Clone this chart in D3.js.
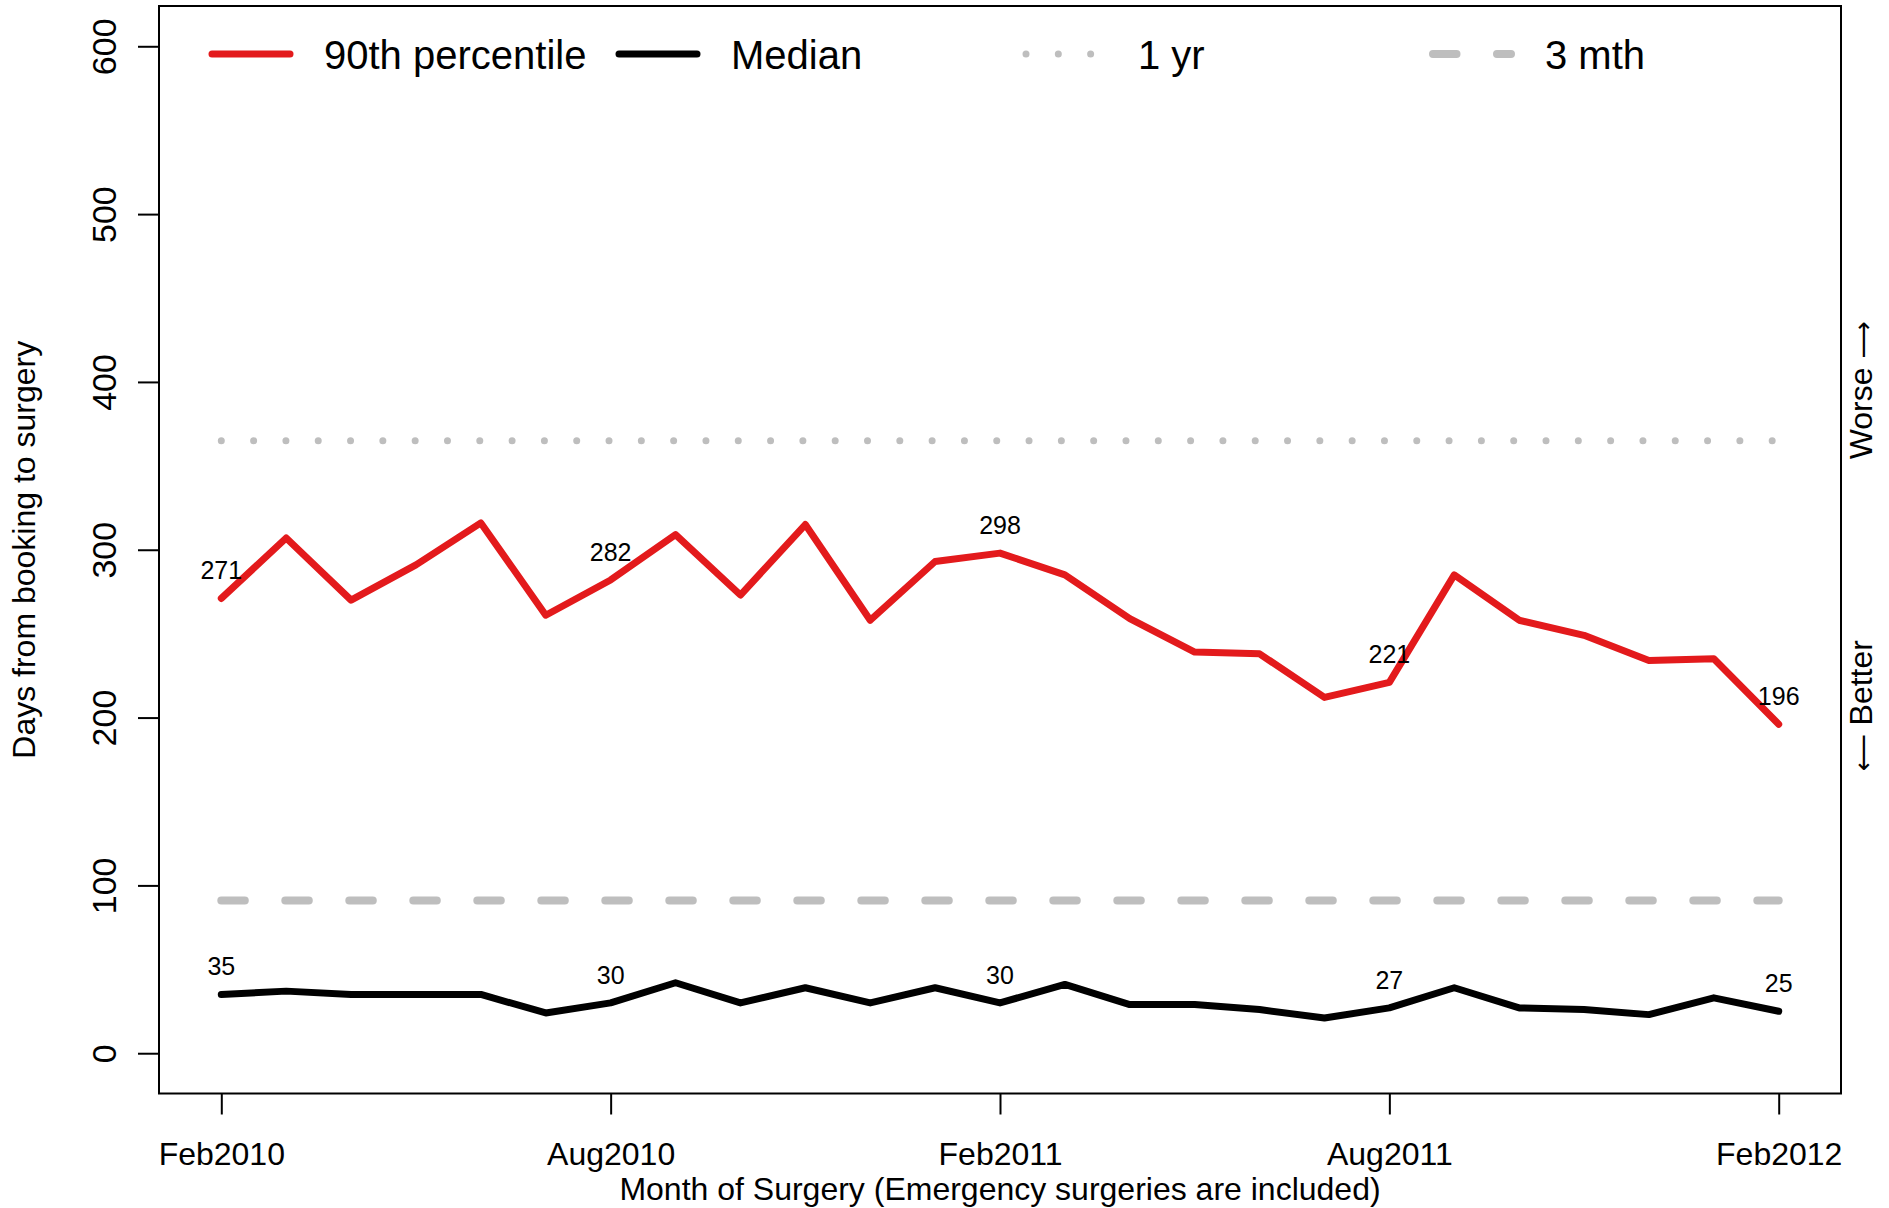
<!DOCTYPE html>
<html>
<head>
<meta charset="utf-8">
<script src="https://cdnjs.cloudflare.com/ajax/libs/d3/7.8.5/d3.min.js"></script>
<style>
  body { margin: 0; background: #fff; }
  svg { font-family: "Liberation Sans", Arial, sans-serif; }
</style>
</head>
<body>
<svg width="1889" height="1208"></svg>
<script>
// months on the x axis, Feb2010 .. Feb2012
var months = ["Feb2010","Mar2010","Apr2010","May2010","Jun2010","Jul2010","Aug2010","Sep2010","Oct2010","Nov2010","Dec2010","Jan2011",
              "Feb2011","Mar2011","Apr2011","May2011","Jun2011","Jul2011","Aug2011","Sep2011","Oct2011","Nov2011","Dec2011","Jan2012","Feb2012"];
var tickMonths = ["Feb2010","Aug2010","Feb2011","Aug2011","Feb2012"];

// days from booking to surgery
var p90    = [271,307,270,291,316,261,282,309,273,315,258,293,298,285,259,239,238,212,221,285,258,249,234,235,196];
var median = [35,37,35,35,35,24,30,42,30,39,30,39,30,41,29,29,26,21,27,39,27,26,23,33,25];

var yTicks = [0,100,200,300,400,500,600];
var oneYear = 365, threeMonth = 91;
var legendLabels = ["90th percentile","Median","1 yr","3 mth"];

var svg = d3.select("svg");
var red = "#E31A1C", grey = "#BEBEBE";

var x = d3.scalePoint()
    .domain(months)
    .range([159, 1841])
    .padding(0.96);

var y = d3.scaleLinear()
    .domain([-24, 624])
    .range([1093.5, 6]);

// y axis, labels turned like R does
var yAxis = svg.append("g")
    .attr("transform", "translate(159,0)")
    .call(d3.axisLeft(y).tickValues(yTicks).tickSize(21).tickFormat(d3.format("d")));
yAxis.select(".domain").remove();
yAxis.selectAll("line").attr("stroke-width", 2);
yAxis.selectAll("text")
    .attr("transform", "rotate(-90)")
    .attr("x", 0)
    .attr("y", -43)
    .attr("dy", 0)
    .attr("text-anchor", "middle")
    .attr("font-size", 34)
    .attr("font-family", null)
    .attr("fill", "#000");

// x axis
var xAxis = svg.append("g")
    .attr("transform", "translate(0,1093.5)")
    .call(d3.axisBottom(x).tickValues(tickMonths).tickSize(21));
xAxis.select(".domain").remove();
xAxis.selectAll("line").attr("stroke-width", 2);
xAxis.selectAll("text")
    .attr("y", 71)
    .attr("dy", 0)
    .attr("font-size", 32)
    .attr("font-family", null)
    .attr("fill", "#000");

// frame
svg.append("rect")
    .attr("x", 159).attr("y", 6)
    .attr("width", 1841 - 159).attr("height", 1093.5 - 6)
    .attr("fill", "none").attr("stroke", "#000").attr("stroke-width", 2);

// reference lines
var ends = [months[0], months[months.length - 1]];
svg.append("line")
    .attr("x1", x(ends[0])).attr("x2", x(ends[1]))
    .attr("y1", y(oneYear)).attr("y2", y(oneYear))
    .attr("stroke", grey).attr("stroke-width", 7)
    .attr("stroke-linecap", "round")
    .attr("stroke-dasharray", "0.01 32.3");
svg.append("line")
    .attr("x1", x(ends[0])).attr("x2", x(ends[1]))
    .attr("y1", y(threeMonth)).attr("y2", y(threeMonth))
    .attr("stroke", grey).attr("stroke-width", 8)
    .attr("stroke-linecap", "round")
    .attr("stroke-dasharray", "23.5 40.5");

// series
var line = d3.line()
    .x(function (d, i) { return x(months[i]); })
    .y(function (d) { return y(d); });

[[p90, red], [median, "#000"]].forEach(function (s) {
    svg.append("path")
        .datum(s[0])
        .attr("d", line)
        .attr("fill", "none")
        .attr("stroke", s[1])
        .attr("stroke-width", 7)
        .attr("stroke-linejoin", "round")
        .attr("stroke-linecap", "round");
});

// value labels every six months
[p90, median].forEach(function (vals) {
    svg.append("g").selectAll("text")
        .data(tickMonths)
        .enter().append("text")
        .attr("x", function (m) { return x(m); })
        .attr("y", function (m) { return y(vals[months.indexOf(m)]) - 19; })
        .attr("text-anchor", "middle")
        .attr("font-size", 25)
        .text(function (m) { return vals[months.indexOf(m)]; });
});

// legend
var legendStyles = [
    {color: red, width: 7, dash: null},
    {color: "#000", width: 7, dash: null},
    {color: grey, width: 7, dash: "0.01 32.3"},
    {color: grey, width: 8, dash: "23.5 40.5"}
];
var legend = svg.append("g").attr("transform", "translate(212,54)");
var item = legend.selectAll("g")
    .data(legendLabels)
    .enter().append("g")
    .attr("transform", function (d, i) { return "translate(" + (i * 407) + ",0)"; });
item.append("line")
    .attr("x1", 0).attr("x2", 78)
    .attr("stroke", function (d, i) { return legendStyles[i].color; })
    .attr("stroke-width", function (d, i) { return legendStyles[i].width; })
    .attr("stroke-dasharray", function (d, i) { return legendStyles[i].dash; })
    .attr("stroke-linecap", "round");
item.append("text")
    .attr("x", 112)
    .attr("y", 14.5)
    .attr("font-size", 40)
    .text(function (d) { return d; });

// axis titles
svg.append("text")
    .attr("transform", "translate(35," + ((6 + 1093.5) / 2) + ") rotate(-90)")
    .attr("text-anchor", "middle")
    .attr("font-size", 32)
    .text("Days from booking to surgery");

svg.append("text")
    .attr("x", (159 + 1841) / 2)
    .attr("y", 1200)
    .attr("text-anchor", "middle")
    .attr("font-size", 32)
    .text("Month of Surgery (Emergency surgeries are included)");

// direction hints on the right (long arrows from DejaVu)
[[["Worse ", "\u27F6"], 395], [["\u27F5", " Better"], 207]].forEach(function (t) {
    var txt = svg.append("text")
        .attr("transform", "translate(1872," + y(t[1]) + ") rotate(-90)")
        .attr("text-anchor", "middle")
        .attr("font-size", 32);
    t[0].forEach(function (part) {
        var isArrow = /[\u27F5\u27F6]/.test(part);
        txt.append("tspan")
            .attr("font-family", isArrow ? "DejaVu Sans" : null)
            .attr("font-size", isArrow ? 26 : null)
            .text(part);
    });
});
</script>
</body>
</html>
